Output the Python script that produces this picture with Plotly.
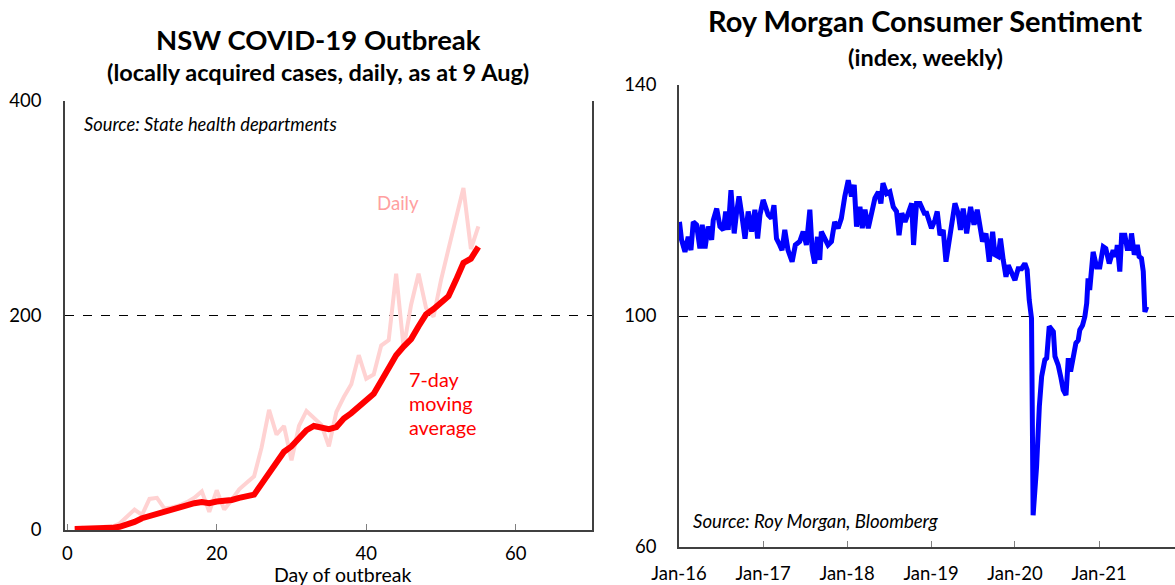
import plotly.graph_objects as go

# ---------------- Left chart data: NSW COVID-19 outbreak ----------------
days = list(range(1, 56))
daily_cases = [1, 2, 1, 1, 3, 3, 6, 12, 19, 14,
               29, 30, 20, 21, 23, 26, 30, 36, 17, 37,
               19, 28, 38, 44, 50, 77, 112, 89, 97, 65,
               97, 111, 105, 98, 78, 110, 124, 136, 163, 141,
               145, 172, 177, 239, 170, 210, 239, 207, 199, 233,
               262, 291, 319, 262, 283]
avg_7day = [1, 1, 1, 1, 1.5, 2, 3, 5, 7.5, 11,
            13, 15.5, 18, 20, 21.5, 23, 25, 26, 25, 26.5,
            27, 28, 30, 32, 33, 43, 53, 63, 73, 78,
            86, 93, 97, 95, 94, 96, 104, 109, 115, 121,
            127, 139, 152, 163, 171, 178, 190, 201, 206, 212,
            218, 233, 249, 253, 264]
left_xticks = [0, 20, 40, 60]
left_yticks = [0, 200, 400]

# ---------------- Right chart data: Roy Morgan consumer sentiment ----------------
rm_dates = [
    "2016-01-03", "2016-01-12", "2016-01-27", "2016-02-10", "2016-02-22", "2016-03-03",
    "2016-03-17", "2016-04-01", "2016-04-11", "2016-04-23", "2016-05-07", "2016-05-22",
    "2016-05-29", "2016-06-13", "2016-06-27", "2016-07-12", "2016-07-22", "2016-08-02",
    "2016-08-14", "2016-08-28", "2016-09-07", "2016-09-18", "2016-09-29", "2016-10-14",
    "2016-10-28", "2016-11-12", "2016-11-26", "2016-12-08", "2016-12-18", "2017-01-01",
    "2017-01-23", "2017-02-06", "2017-02-17", "2017-02-28", "2017-03-14", "2017-03-24",
    "2017-04-05", "2017-04-19", "2017-05-07", "2017-05-21", "2017-06-09", "2017-06-24",
    "2017-07-08", "2017-07-23", "2017-08-02", "2017-08-13", "2017-08-25", "2017-09-04",
    "2017-09-11", "2017-09-26", "2017-10-10", "2017-10-25", "2017-11-08", "2017-11-23",
    "2017-12-07", "2017-12-22", "2018-01-06", "2018-01-20", "2018-02-01", "2018-02-11",
    "2018-02-26", "2018-03-08", "2018-03-20", "2018-04-03", "2018-04-18", "2018-05-02",
    "2018-05-17", "2018-05-28", "2018-06-06", "2018-06-22", "2018-07-06", "2018-07-21",
    "2018-08-04", "2018-08-15", "2018-08-27", "2018-09-10", "2018-09-24", "2018-10-09",
    "2018-10-17", "2018-10-30", "2018-11-14", "2018-12-03", "2018-12-13", "2019-01-03",
    "2019-01-18", "2019-01-28", "2019-02-09", "2019-02-23", "2019-03-07", "2019-03-21",
    "2019-03-31", "2019-04-15", "2019-04-29", "2019-05-09", "2019-05-21", "2019-06-05",
    "2019-06-22", "2019-07-07", "2019-07-21", "2019-08-02", "2019-08-13", "2019-08-28",
    "2019-09-11", "2019-09-26", "2019-10-06", "2019-10-20", "2019-10-30", "2019-11-11",
    "2019-11-23", "2019-12-03", "2019-12-17", "2020-01-01", "2020-01-15", "2020-01-30",
    "2020-02-13", "2020-02-23", "2020-03-03", "2020-03-13", "2020-03-20", "2020-04-04",
    "2020-04-16", "2020-04-26", "2020-05-10", "2020-05-18", "2020-05-29", "2020-06-16",
    "2020-06-23", "2020-07-07", "2020-07-18", "2020-07-29", "2020-08-10", "2020-08-20",
    "2020-08-30", "2020-09-10", "2020-09-22", "2020-10-02", "2020-10-09", "2020-10-21",
    "2020-10-31", "2020-11-08", "2020-11-14", "2020-11-21", "2020-11-28", "2020-12-06",
    "2020-12-21", "2021-01-04", "2021-01-19", "2021-01-30", "2021-02-14", "2021-03-03",
    "2021-03-15", "2021-03-21", "2021-04-01", "2021-04-09", "2021-04-23", "2021-05-03",
    "2021-05-15", "2021-05-22", "2021-06-03", "2021-06-16", "2021-06-24", "2021-07-04",
    "2021-07-12", "2021-07-19", "2021-07-27",
]
rm_values = [
    116.3, 113.2, 111.1, 113.7, 111.4, 116.3,
    115.8, 111.7, 115.8, 111.7, 115.5, 113.2,
    116.6, 118.6, 115.5, 114.9, 118.1, 114.9,
    121.8, 114.3, 117.8, 120.7, 117.8, 113.4,
    118.1, 114.6, 118.4, 113.4, 117.5, 120.1,
    117.5, 116.9, 119.2, 113.4, 112.3, 111.4,
    114.9, 111.4, 109.4, 112.3, 112.9, 114.6,
    112.3, 118.4, 111.4, 109.1, 113.7, 109.7,
    114.6, 113.4, 112.3, 112.9, 116.3, 115.2,
    116.9, 120.7, 123.5, 120.7, 122.7, 115.5,
    118.9, 115.2, 118.4, 115.2, 117.8, 120.4,
    121.5, 119.5, 123.0, 121.2, 121.5, 118.9,
    118.1, 114.0, 117.8, 116.3, 117.8, 119.5,
    112.3, 119.5, 119.5, 117.8, 117.8, 115.2,
    116.6, 118.1, 114.0, 114.9, 109.4, 112.9,
    114.6, 119.5, 117.8, 114.9, 118.6, 114.3,
    118.9, 115.8, 118.4, 115.5, 112.9, 114.3,
    109.4, 114.6, 110.6, 110.3, 113.4, 109.7,
    106.8, 108.8, 107.7, 106.2, 108.2, 108.2,
    109.1, 108.0, 102.8, 99.6, 65.5, 73.9,
    84.3, 89.5, 92.4, 92.7, 98.2, 97.3,
    93.0, 91.5, 89.5, 87.2, 86.3, 92.7,
    90.4, 92.7, 95.3, 95.8, 97.6, 98.4,
    99.9, 102.2, 106.5, 104.5, 108.0, 111.1,
    108.5, 108.5, 112.0, 111.7, 109.1, 111.4,
    110.3, 112.3, 107.7, 114.0, 114.0, 111.7,
    111.7, 114.3, 110.6, 112.3, 110.3, 110.0,
    107.7, 100.7, 101.6,
]
right_yticks = [60, 100, 140]

FONT = "Lato"
W, H = 1175, 585

def px(x):
    return x / W

def py(y):
    return 1 - y / H

fig = go.Figure()

fig.add_trace(go.Scatter(x=days, y=daily_cases, mode="lines",
                         line=dict(color="rgb(255,210,210)", width=4),
                         xaxis="x", yaxis="y", showlegend=False))
fig.add_trace(go.Scatter(x=days, y=avg_7day, mode="lines",
                         line=dict(color="#FF0000", width=6),
                         xaxis="x", yaxis="y", showlegend=False))
fig.add_trace(go.Scatter(x=rm_dates, y=rm_values, mode="lines",
                         line=dict(color="#0000FF", width=5),
                         xaxis="x2", yaxis="y2", showlegend=False))

axis_col = "#404040"
tickfont = dict(family=FONT, size=18.5, color="#000000")

fig.update_layout(
    width=W, height=H,
    margin=dict(l=0, r=0, t=0, b=0),
    paper_bgcolor="white", plot_bgcolor="white",
    font=dict(family=FONT, color="#000000"),
    xaxis=dict(domain=[px(65), px(592)], range=[-0.3, 70.2],
               tickvals=left_xticks, ticks="inside", ticklen=6, tickcolor="#808080",
               showline=True, linecolor=axis_col, linewidth=1.5, mirror=False,
               showgrid=False, zeroline=False, tickfont=tickfont,
               ticklabelstandoff=6, anchor="y", automargin=False),
    yaxis=dict(domain=[py(530), py(101)], range=[0, 400],
               tickvals=left_yticks, ticks="", showline=True, linecolor=axis_col,
               linewidth=1.5, mirror=True, showgrid=True, gridcolor="#000000",
               gridwidth=1, griddash="dash", zeroline=False, tickfont=tickfont,
               ticklabelstandoff=18, anchor="x", automargin=False),
    xaxis2=dict(domain=[px(679), 1.0], range=["2016-01-01", "2021-11-27"],
                type="date", tick0="2016-01-01", dtick="M12", tickformat="%b-%y",
                ticks="inside", ticklen=6, tickcolor="#808080",
                showline=True, linecolor=axis_col, linewidth=1.5,
                showgrid=False, zeroline=False, tickfont=tickfont,
                ticklabelstandoff=9, anchor="y2", automargin=False),
    yaxis2=dict(domain=[py(547), py(85)], range=[60, 140],
                tickvals=right_yticks, ticks="", showline=True, linecolor=axis_col,
                linewidth=1.5, showgrid=True, gridcolor="#000000", gridwidth=1,
                griddash="dash", zeroline=False, tickfont=tickfont,
                ticklabelstandoff=17, anchor="x2", automargin=False),
)

ann = []
def add_text(text, x, y, size, color="#000000", bold=False, italic=False,
             xanchor="center", align="center"):
    t = text
    if bold:
        t = "<b>" + t + "</b>"
    if italic:
        t = "<i>" + t + "</i>"
    ann.append(dict(text=t, x=px(x), y=py(y), xref="paper", yref="paper",
                    xanchor=xanchor, yanchor="middle", showarrow=False, align=align,
                    font=dict(family=FONT, size=size, color=color)))

add_text("NSW COVID-19 Outbreak", 318, 40, 27.5, bold=True)
add_text("(locally acquired cases, daily, as at 9 Aug)", 318, 72, 23.5, bold=True)
add_text("Roy Morgan Consumer Sentiment", 925, 21, 29, bold=True)
add_text("(index, weekly)", 925, 57, 23.5, bold=True)
add_text("Day of outbreak", 342, 574, 19.5)
add_text("Source: State health departments", 82, 124, 18.3, italic=True, xanchor="left", align="left")
add_text("Source: Roy Morgan, Bloomberg", 691, 521, 18.6, italic=True, xanchor="left", align="left")
add_text("Daily", 398, 203, 18.6, color="rgb(255,160,160)")
add_text("7-day", 407, 379, 19.8, color="#FF0000", xanchor="left", align="left")
add_text("moving", 407, 403, 19.8, color="#FF0000", xanchor="left", align="left")
add_text("average", 407, 427, 19.8, color="#FF0000", xanchor="left", align="left")

fig.update_layout(annotations=ann)

fig.write_html("out.html", config={"displayModeBar": False},
               post_script="document.body.style.margin='0';document.body.style.overflow='hidden';")
